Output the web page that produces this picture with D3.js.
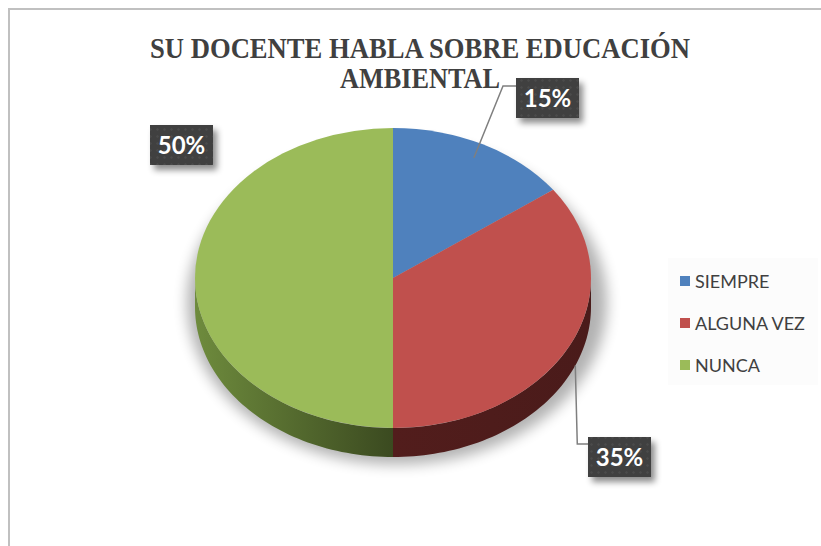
<!DOCTYPE html>
<html><head><meta charset="utf-8">
<script src="https://cdn.jsdelivr.net/npm/d3@7"></script>
<style>html,body{margin:0;padding:0;background:#fff;}svg{display:block;}
.ttl{font-family:"Liberation Serif","Times New Roman",serif;font-weight:bold;}
</style>
</head><body>
<script>
const categories = ["SIEMPRE", "ALGUNA VEZ", "NUNCA"];
const values = [15, 35, 50];
const valueLabels = ["15%", "35%", "50%"];
const colors = ["#4f81bd", "#c0504d", "#9bbb59"];
const sideColors = [["#2c4a6e", "#2c4a6e"], ["#521d1c", "#4a1b1a"], ["#6e8b3d", "#3b4a20"]];
const titleLines = ["SU DOCENTE HABLA SOBRE EDUCACIÓN", "AMBIENTAL"];

const W = 821, H = 546;
const cx = 393, cy = 278, rx = 198, ry = 150, depth = 29;

const svg = d3.select("body").append("svg").attr("width", W).attr("height", H);
const defs = svg.append("defs");

// frame
svg.append("rect").attr("x", 9).attr("y", 9).attr("width", W + 20).attr("height", H + 20)
  .attr("fill", "#fff").attr("stroke", "#c0c0c0").attr("stroke-width", 2);

// filters
const blur = defs.append("filter").attr("id", "pieShadow").attr("x", "-20%").attr("y", "-20%").attr("width", "140%").attr("height", "140%");
blur.append("feGaussianBlur").attr("stdDeviation", 7);
const ds = defs.append("filter").attr("id", "boxShadow").attr("x", "-30%").attr("y", "-30%").attr("width", "160%").attr("height", "160%");
ds.append("feDropShadow").attr("dx", 4).attr("dy", 5).attr("stdDeviation", 3).attr("flood-color", "#000").attr("flood-opacity", 0.45);
const pat = defs.append("pattern").attr("id", "dots").attr("width", 7).attr("height", 7).attr("patternUnits", "userSpaceOnUse");
pat.append("rect").attr("width", 7).attr("height", 7).attr("fill", "#404040");
pat.append("circle").attr("cx", 3.5).attr("cy", 3.5).attr("r", 1.2).attr("fill", "#4b4b4b");

// title
const title = svg.append("g").attr("class", "ttl")
  .attr("fill", "#404040").attr("font-size", 29).attr("text-anchor", "middle");
title.append("text").attr("class", "ttl").attr("x", 420).attr("y", 58).text(titleLines[0])
  .attr("textLength", 540).attr("lengthAdjust", "spacingAndGlyphs");
title.append("text").attr("class", "ttl").attr("x", 420).attr("y", 88).text(titleLines[1])
  .attr("textLength", 160).attr("lengthAdjust", "spacingAndGlyphs");

// legend background (faint)
svg.append("rect").attr("x", 668).attr("y", 258).attr("width", 150).attr("height", 127).attr("fill", "#fcfcfc");

// pie data
const pie = d3.pie().sort(null).value(d => d)(values);
const pt = (a, dy = 0) => [cx + rx * Math.sin(a), cy - ry * Math.cos(a) + dy];

// shadow
svg.append("ellipse").attr("cx", cx + 4).attr("cy", cy + depth / 2 + 10).attr("rx", rx + 12).attr("ry", ry + 12)
  .attr("fill", "#000").attr("opacity", 0.3).attr("filter", "url(#pieShadow)");

// side walls
const sideG = svg.append("g");
pie.forEach((d, i) => {
  const a0 = Math.max(d.startAngle, Math.PI / 2), a1 = Math.min(d.endAngle, 3 * Math.PI / 2);
  if (a1 <= a0) return;
  const n = 60, top = [], bot = [];
  for (let k = 0; k <= n; k++) {
    const a = a0 + (a1 - a0) * k / n;
    top.push(pt(a)); bot.push(pt(a, depth));
  }
  const poly = top.concat(bot.reverse());
  const gid = "sideGrad" + i;
  const x0 = pt(a0)[0], x1 = pt(a1)[0];
  const g = defs.append("linearGradient").attr("id", gid).attr("gradientUnits", "userSpaceOnUse")
    .attr("x1", Math.min(x0, x1)).attr("x2", Math.max(x0, x1)).attr("y1", 0).attr("y2", 0);
  g.append("stop").attr("offset", 0).attr("stop-color", sideColors[i][0]);
  g.append("stop").attr("offset", 1).attr("stop-color", sideColors[i][1]);
  sideG.append("path").attr("d", d3.line()(poly) + "Z").attr("fill", `url(#${gid})`);
});

// top face
const arc = d3.arc().innerRadius(0).outerRadius(rx);
svg.append("g").attr("transform", `translate(${cx},${cy}) scale(1,${ry / rx})`)
  .selectAll("path").data(pie).join("path")
  .attr("d", arc).attr("fill", (d, i) => colors[i]);

// leader lines + labels
const labelBoxes = [
  { x: 516, y: 78, anchor: d => { const m = (d.startAngle + d.endAngle) / 2; const p = pt(m); return [cx + (p[0] - cx) * 0.9, cy + (p[1] - cy) * 0.9]; }, elbow: (a, b) => [[a[0], a[1]], [503, 86], [b.x, 86]] },
  { x: 588, y: 437, anchor: d => pt((d.startAngle + d.endAngle) / 2 - 0.07, depth), elbow: (a, b) => [[a[0], a[1]], [a[0] + 2, 444], [b.x, 444]] },
  { x: 150, y: 125, anchor: null, elbow: null }
];
const bw = 63, bh = 40;
pie.forEach((d, i) => {
  const b = labelBoxes[i];
  if (b.anchor) {
    const a = b.anchor(d);
    svg.append("path").attr("d", d3.line()(b.elbow(a, b))).attr("fill", "none")
      .attr("stroke", "#7f7f7f").attr("stroke-width", 1.5);
  }
  const g = svg.append("g");
  g.append("rect").attr("x", b.x).attr("y", b.y).attr("width", bw).attr("height", bh)
    .attr("fill", "url(#dots)").attr("filter", "url(#boxShadow)");
  g.append("text").attr("x", b.x + bw / 2).attr("y", b.y + bh / 2 + 8.5)
    .attr("text-anchor", "middle").attr("font-family", "Lato,'Open Sans',sans-serif")
    .attr("font-weight", "bold").attr("font-size", 24).attr("fill", "#fff").text(valueLabels[i]);
});

// legend
const lg = svg.append("g").attr("font-family", "Lato,'Open Sans',sans-serif").attr("font-size", 18).attr("fill", "#404040");
const ly = d3.scalePoint().domain(categories).range([281, 365]);
categories.forEach((c, i) => {
  lg.append("rect").attr("x", 680).attr("y", ly(c) - 5).attr("width", 10).attr("height", 10).attr("fill", colors[i]);
  lg.append("text").attr("x", 695).attr("y", ly(c) + 6.5).text(c);
});
</script>
</body></html>
